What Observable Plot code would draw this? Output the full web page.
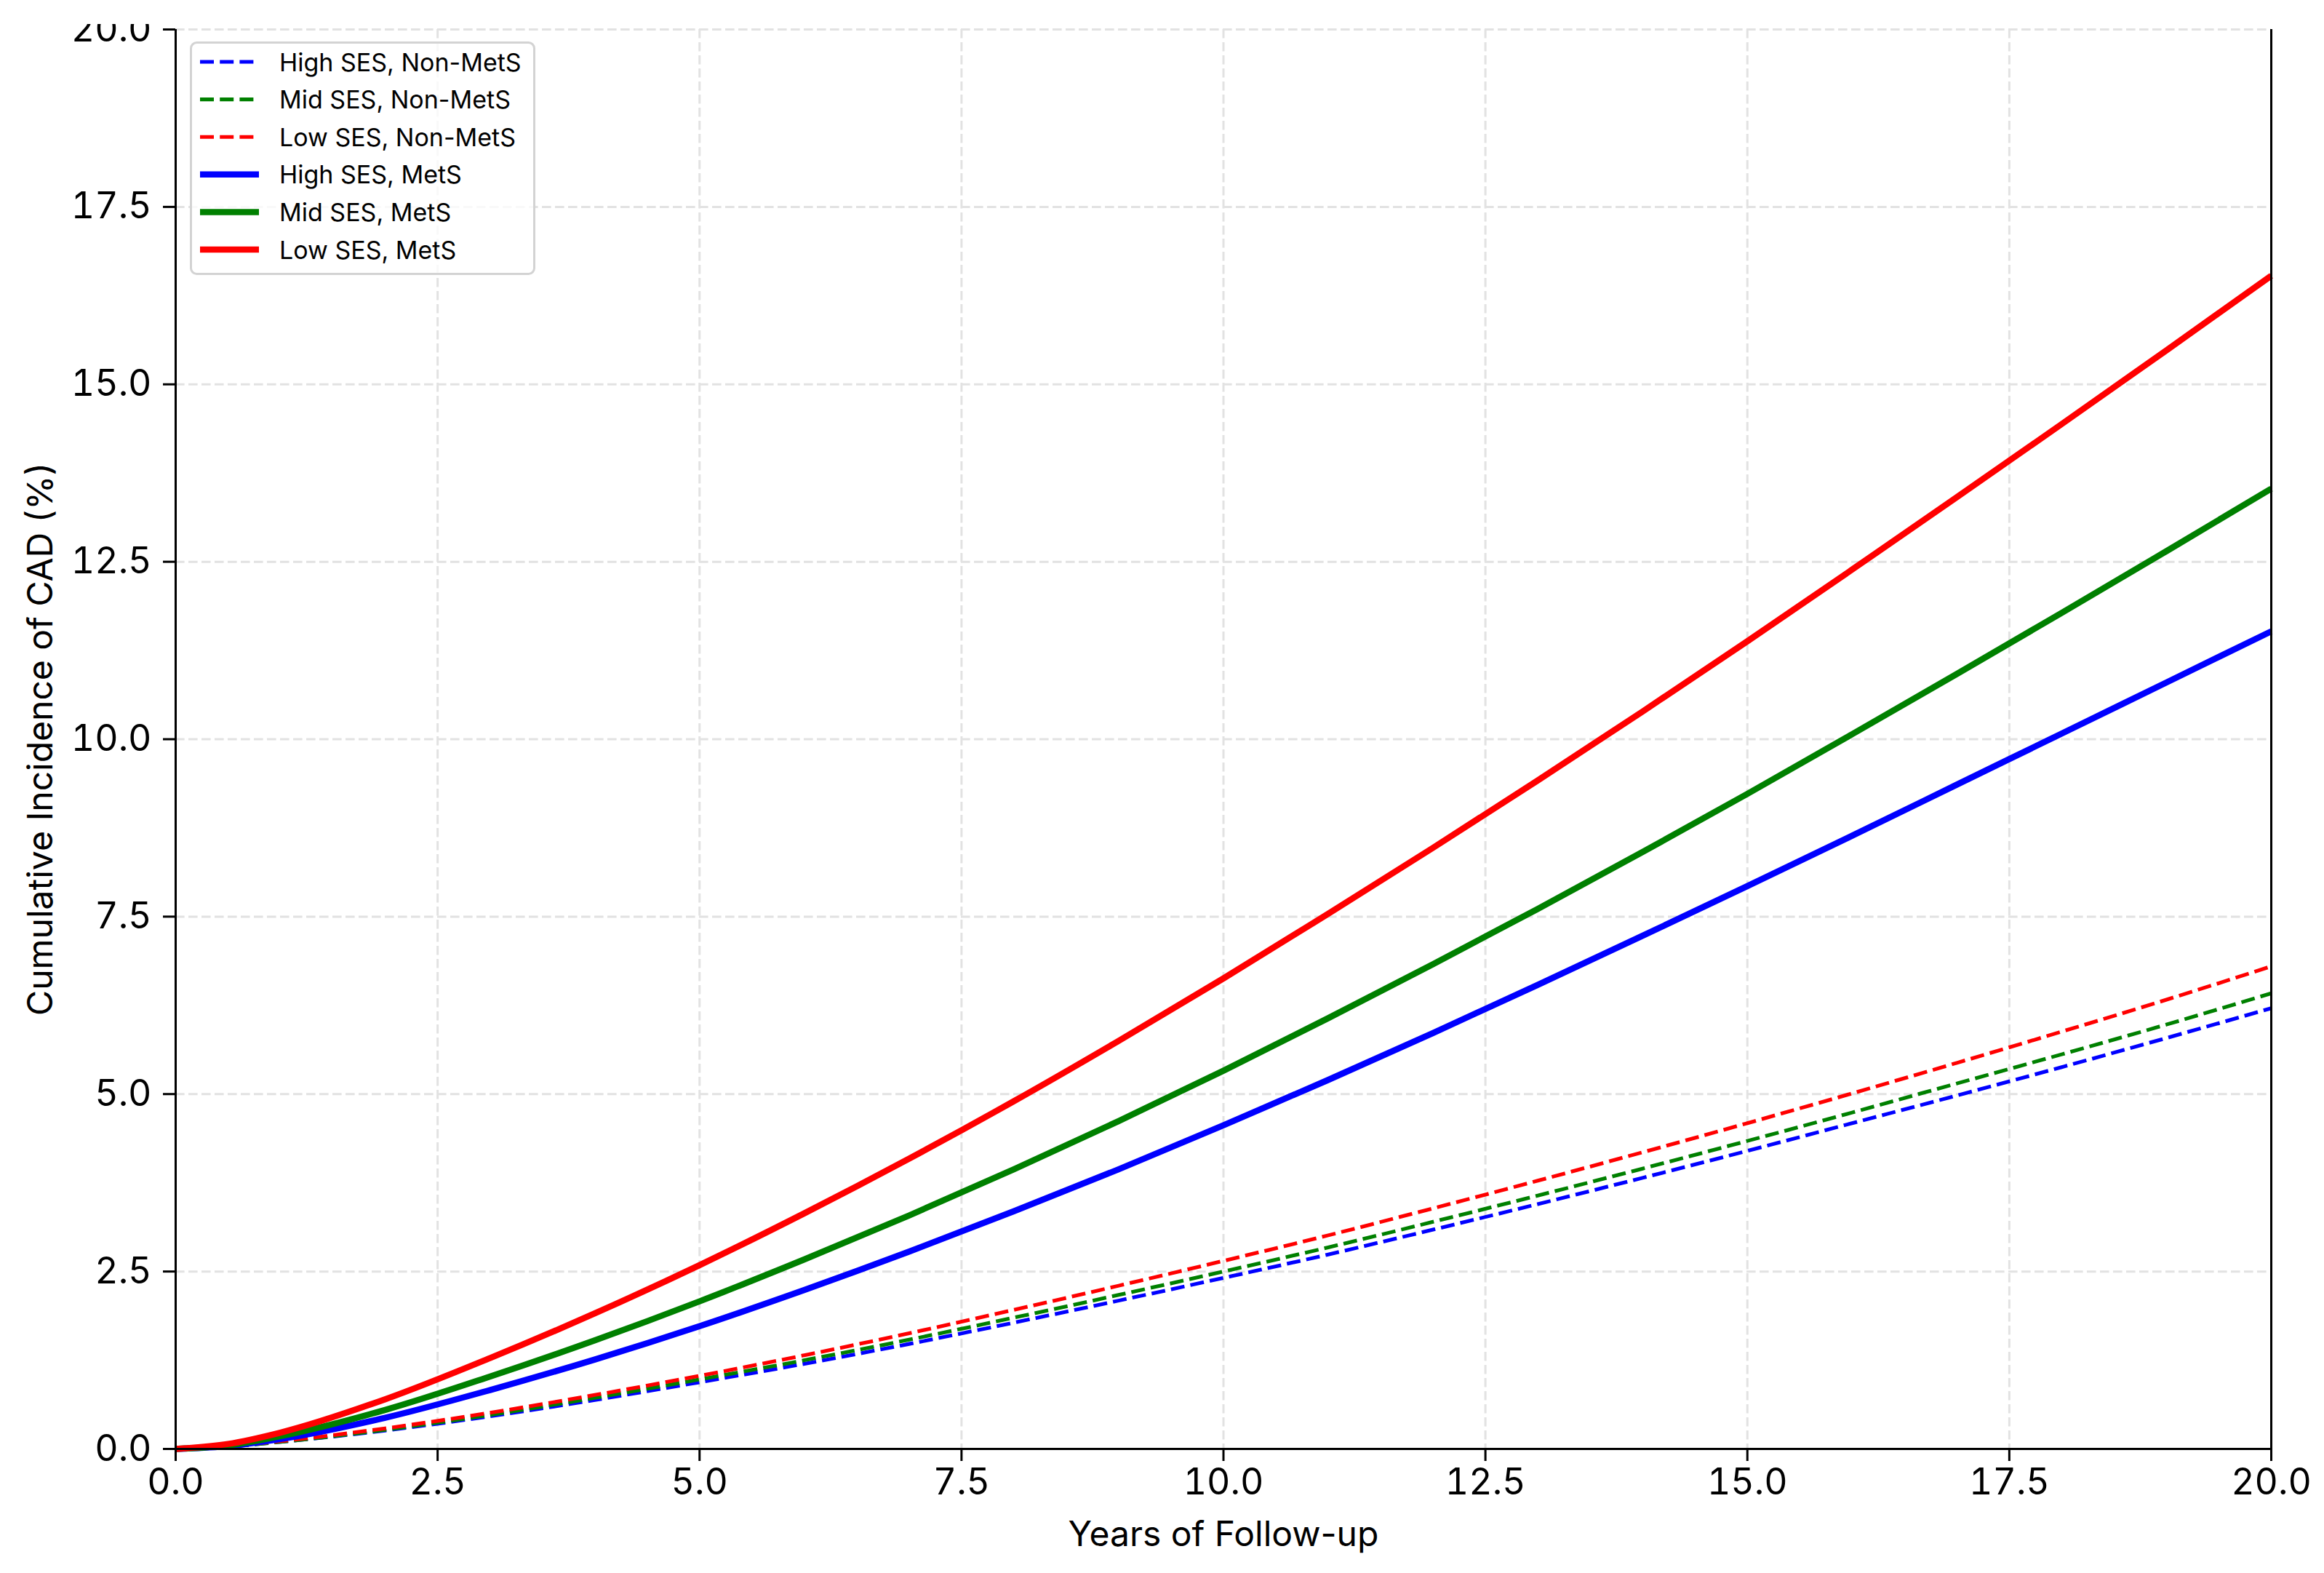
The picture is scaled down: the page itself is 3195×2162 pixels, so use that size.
<!DOCTYPE html>
<html>
<head>
<meta charset="utf-8">
<script src="https://cdn.jsdelivr.net/npm/d3@7"></script>
<script src="https://cdn.jsdelivr.net/npm/@observablehq/plot@0.6"></script>
<style>
  body { margin: 0; background: #fff; font-family: Inter, "DejaVu Sans", sans-serif; }
  #wrap { position: relative; width: 3195px; height: 2162px; overflow: hidden; }
  #topmask { position: absolute; left: 0; top: 0; width: 3195px; height: 33px; background: #fff; }
  #legend { position: absolute; left: 261px; top: 57px; }
</style>
</head>
<body>
<div id="wrap"></div>
<script>
// ---- data ----
const years = [0,0.5,1,2,3,4,5,6,7,8,9,10,11,12,13,14,15,16,17,18,19,20];

const highSesNonMets = [0,0.035,0.10,0.26,0.46,0.69,0.94,1.20,1.48,1.78,2.09,2.41,2.74,3.09,3.45,3.82,4.20,4.59,4.98,5.38,5.79,6.21];
const midSesNonMets  = [0,0.035,0.10,0.27,0.48,0.72,0.98,1.25,1.54,1.85,2.17,2.50,2.84,3.20,3.57,3.95,4.34,4.74,5.15,5.56,5.98,6.42];
const lowSesNonMets  = [0,0.04,0.11,0.29,0.51,0.76,1.03,1.32,1.63,1.96,2.30,2.65,3.01,3.39,3.78,4.18,4.59,5.01,5.44,5.88,6.33,6.80];
const highSesMets    = [0,0.04,0.14,0.44,0.83,1.26,1.73,2.24,2.78,3.35,3.94,4.56,5.20,5.86,6.54,7.23,7.93,8.64,9.36,10.08,10.80,11.52];
const midSesMets     = [0,0.05,0.18,0.55,1.02,1.53,2.08,2.67,3.29,3.94,4.62,5.33,6.07,6.83,7.61,8.41,9.23,10.07,10.92,11.78,12.65,13.53];
const lowSesMets     = [0,0.07,0.23,0.70,1.28,1.91,2.59,3.32,4.09,4.90,5.75,6.63,7.54,8.47,9.42,10.39,11.38,12.39,13.41,14.44,15.48,16.53];

const seriesLabels = ["High SES, Non-MetS","Mid SES, Non-MetS","Low SES, Non-MetS","High SES, MetS","Mid SES, MetS","Low SES, MetS"];
const seriesValues = [highSesNonMets, midSesNonMets, lowSesNonMets, highSesMets, midSesMets, lowSesMets];
const seriesColors = ["#0000ff","#008000","#ff0000","#0000ff","#008000","#ff0000"];
const seriesDashed = [true,true,true,false,false,false];

const xTicks = [0,2.5,5,7.5,10,12.5,15,17.5,20];
const yTicks = [0,2.5,5,7.5,10,12.5,15,17.5,20];
const xLabel = "Years of Follow-up";
const yLabel = "Cumulative Incidence of CAD (%)";

// ---- build ----
const fmt = d3.format(".1f");
const SOLID_W = 8.5, DASH_W = 5.1, DASH = "19,8.2";

const lineMarks = seriesLabels.map((name, k) => {
  const rows = years.map((t, i) => ({t, v: seriesValues[k][i], s: name}));
  return Plot.line(rows, {
    x: "t", y: "v",
    stroke: seriesColors[k],
    strokeWidth: seriesDashed[k] ? DASH_W : SOLID_W,
    strokeDasharray: seriesDashed[k] ? DASH : null,
    strokeLinecap: "butt",
    strokeLinejoin: "round",
    curve: "monotone-x"
  });
});

const gridStyle = {stroke: "#e2e2e2", strokeOpacity: 1, strokeWidth: 3, strokeDasharray: "12.6,5.4"};

const chart = Plot.plot({
  width: 3195,
  height: 2162,
  marginLeft: 241,
  marginRight: 73,
  marginTop: 40,
  marginBottom: 171,
  style: {fontFamily: "Inter, 'DejaVu Sans', sans-serif", fontSize: "50px", color: "#000", background: "#fff"},
  x: {domain: [0, 20]},
  y: {domain: [0, 20]},
  marks: [
    Plot.gridX(xTicks, gridStyle),
    Plot.gridY(yTicks, gridStyle),
    ...lineMarks,
    Plot.ruleX([0, 20], {stroke: "#000", strokeWidth: 3}),
    Plot.ruleY([0], {stroke: "#000", strokeWidth: 3}),
    Plot.axisX(xTicks, {tickSize: 17, tickPadding: 10, tickFormat: fmt, label: null, strokeWidth: 3, fontSize: 50}),
    Plot.axisY(yTicks, {tickSize: 17, tickPadding: 16, tickFormat: fmt, label: null, strokeWidth: 3, fontSize: 50}),
    Plot.text([xLabel], {text: d => d, frameAnchor: "bottom", textAnchor: "middle", lineAnchor: "top", dy: 99, fontSize: 48, fill: "#000"}),
    Plot.text([yLabel], {text: d => d, frameAnchor: "left", textAnchor: "middle", lineAnchor: "middle", rotate: -90, dx: -185, fontSize: 48, fill: "#000"})
  ]
});

const wrap = document.getElementById("wrap");
wrap.appendChild(chart);

// legend (inside the plot area, upper left)
const LW = 475, LH = 321;
const leg = d3.select(wrap).append("svg")
  .attr("id", "legend")
  .attr("width", LW).attr("height", LH);
leg.append("rect")
  .attr("x", 1.5).attr("y", 1.5).attr("width", LW - 3).attr("height", LH - 3)
  .attr("rx", 8).attr("fill", "#fff").attr("fill-opacity", 0.8)
  .attr("stroke", "#d3d3d3").attr("stroke-width", 3);
seriesLabels.forEach((name, k) => {
  const yy = 28 + k * 51.6;
  leg.append("line")
    .attr("x1", 14).attr("x2", 95).attr("y1", yy).attr("y2", yy)
    .attr("stroke", seriesColors[k])
    .attr("stroke-width", seriesDashed[k] ? DASH_W : SOLID_W)
    .attr("stroke-dasharray", seriesDashed[k] ? DASH : null);
  leg.append("text")
    .attr("x", 123).attr("y", yy)
    .attr("dominant-baseline", "central")
    .attr("font-family", "Inter, 'DejaVu Sans', sans-serif")
    .attr("font-size", 34)
    .attr("fill", "#000")
    .text(name);
});

// the reference image is cropped just above the top tick label
const mask = document.createElement("div");
mask.id = "topmask";
wrap.appendChild(mask);
</script>
</body>
</html>
